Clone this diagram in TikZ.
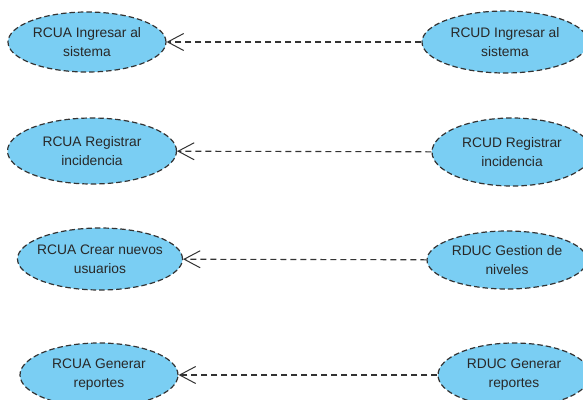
\documentclass[tikz,border=0pt]{standalone}
\usepackage{fontspec}
\setmainfont{Liberation Sans}
\usetikzlibrary{shapes.geometric,arrows.meta}
\definecolor{ucfill}{RGB}{122,206,243}
\definecolor{ucline}{RGB}{51,51,51}
\definecolor{uctext}{RGB}{40,40,40}
\tikzset{
  uc/.style={ellipse, draw=ucline, fill=ucfill, line width=1.2pt,
    dash pattern=on 5.5pt off 3pt, inner xsep=-20pt, inner ysep=-6pt,
    align=center, text=uctext, font=\fontsize{13.8pt}{19pt}\selectfont},
  dep/.style={draw=ucline, line width=1.1pt, dash pattern=on 6pt off 4pt,
    -{Straight Barb[length=16pt,width=17pt,line width=1pt]}}
}
\begin{document}
\begin{tikzpicture}[x=1pt,y=1pt]
\useasboundingbox (0,0) rectangle (583,-399);
\clip (0,0) rectangle (583,-399);
% left column: use cases that are included
\node[uc, minimum width=158, minimum height=60] (l1) at (87,-42) {RCUA Ingresar al\\sistema};
\node[uc, minimum width=169, minimum height=66] (l2) at (92,-151) {RCUA Registrar\\incidencia};
\node[uc, minimum width=165, minimum height=62] (l3) at (100,-259) {RCUA Crear nuevos\\usuarios};
\node[uc, minimum width=158, minimum height=64] (l4) at (99,-375) {RCUA Generar\\reportes};
% right column
\node[uc, minimum width=166, minimum height=62] (r1) at (505,-42) {RCUD Ingresar al\\sistema};
\node[uc, minimum width=160, minimum height=68] (r2) at (512,-152) {RCUD Registrar\\incidencia};
\node[uc, minimum width=160, minimum height=58] (r3) at (507,-260) {RDUC Gestion de\\niveles};
\node[uc, minimum width=152, minimum height=64] (r4) at (514,-375) {RDUC Generar\\reportes};
% dependencies
\draw[dep] (r1) -- (l1);
\draw[dep] (r2) -- (l2);
\draw[dep] (r3) -- (l3);
\draw[dep] (r4) -- (l4);
\end{tikzpicture}
\end{document}
